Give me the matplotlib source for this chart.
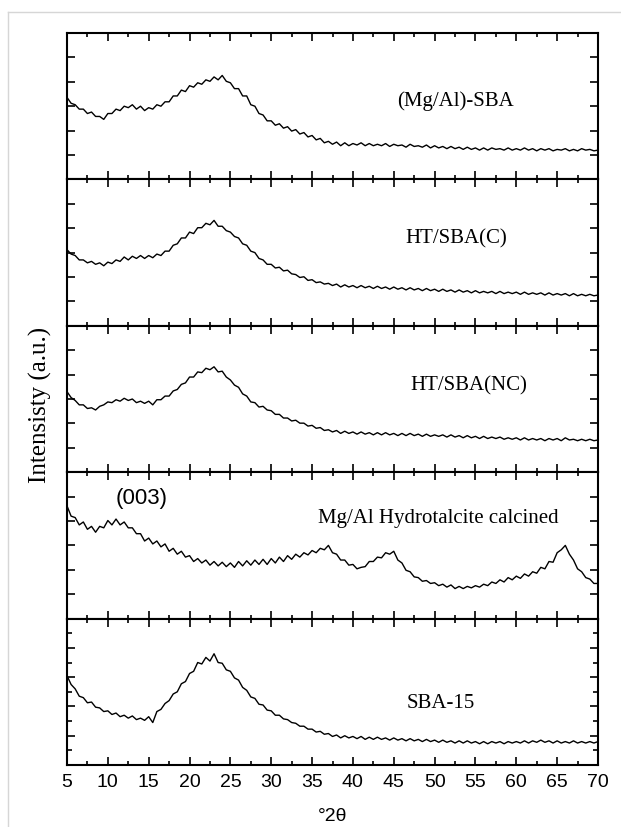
import numpy as np
import matplotlib
matplotlib.use("Agg")
import matplotlib.pyplot as plt
from matplotlib.ticker import MultipleLocator, FixedLocator
from matplotlib.lines import Line2D

# ---- data (2theta grid 5..70 step 0.5; intensities in % of panel height) ----
two_theta = np.arange(5.0, 70.01, 0.5)

mgal_sba = [56, 52, 51, 48, 48, 45, 46, 43, 43, 41, 45, 45, 48, 47, 50, 49, 51, 48, 50, 47,
            49, 48, 51, 50, 53, 53, 57, 57, 61, 60, 64, 63, 66, 65, 68, 67, 70, 68, 71, 67,
            66, 62, 62, 57, 57, 51, 50, 45, 44, 40, 40, 37, 38, 35, 36, 33, 34, 31, 32, 29,
            30, 27, 28, 25, 26, 24, 25.5, 23, 25, 23, 24.5, 23.5, 25, 23, 24.5, 23, 24, 23, 24.5, 22.5,
            24, 23, 23.5, 22, 24, 22.5, 23, 22, 23.5, 21.5, 23, 21.5, 22.5, 21, 22.5, 21, 22, 20.5, 22, 20.5,
            21.5, 20, 21.5, 20, 21.5, 20.5, 21, 20, 21.5, 20, 21, 20, 21.5, 20, 21, 19.5, 21, 20, 21, 19.5,
            20.5, 20, 21, 19.5, 20.5, 19.5, 21, 20, 20.5, 19.5, 20]

ht_sba_c = [52, 49, 48, 45, 45, 43, 44, 42, 43, 41, 43.5, 42.5, 45, 44, 47, 45, 47.5, 46, 48, 46,
            48, 46.5, 49, 48, 51, 51, 55, 56, 60, 60, 64, 63, 67, 67, 70, 69, 72, 68, 68, 65,
            64, 61, 60, 56, 55, 51, 50, 46, 45, 42, 42, 39.5, 40, 37.5, 38, 35.5, 35, 33, 33.5, 31,
            31.5, 29.5, 30, 28.5, 29, 27.5, 28.5, 26.5, 28, 26.5, 27.5, 26, 27.5, 26, 27, 25.5, 27, 25.5, 26.5, 25,
            26.5, 25, 26, 24.5, 26, 24.5, 25.5, 24, 25.5, 24, 25, 23.5, 25, 23.5, 24.5, 23, 24.5, 23, 24, 22.5,
            24, 22.5, 23.5, 22.5, 23.5, 22, 23.5, 22, 23, 22, 23, 21.5, 23, 21.5, 22.5, 21.5, 22.5, 21, 22.5, 21,
            22, 21, 22, 20.5, 22, 20.5, 21.5, 20.5, 21.5, 20.5, 21]

ht_sba_nc = [55, 51, 49, 46, 46, 43.5, 44, 42.5, 45, 46, 48, 47.5, 49.5, 48.5, 50.5, 49, 50, 47.5, 48.5, 47,
             48.5, 46, 49.5, 49.5, 52, 52, 55.5, 56.5, 60, 61, 65, 65, 68.5, 68, 71, 70, 72, 68.5, 69, 65,
             63, 59.5, 58, 53.5, 52, 48, 47.5, 44.5, 45, 42.5, 42, 39.5, 39.5, 37, 37, 35, 35.5, 33.5, 33.5, 31.5,
             32, 30, 30.5, 28.5, 29, 27.5, 28.5, 26.5, 28, 26.5, 27.5, 26, 27.5, 26, 27, 25.5, 27, 25.5, 27, 25.5,
             26.5, 25, 26.5, 25, 26.5, 25, 26, 24.5, 26, 24.5, 25.5, 24.5, 25.5, 24, 25.5, 24, 25, 23.5, 25, 23.5,
             24.5, 23, 24.5, 23, 24, 23, 24, 22.5, 23.5, 22.5, 23.5, 22, 23.5, 22, 23, 22, 23, 21.5, 23, 22,
             23, 21.5, 23.5, 22, 22.5, 21.5, 22.5, 21.5, 22.5, 21.5, 22]

ht_calcined = [77, 70, 69, 64, 66, 61, 63, 59, 63, 62, 67, 64, 68, 64, 66, 62, 62, 58, 58, 53,
               55, 51, 53, 49, 51, 46, 48, 44, 46, 42, 43, 39, 41, 38, 40, 36.5, 39, 36, 38.5, 35.5,
               38, 35, 39, 36, 39.5, 36.5, 40, 37, 40.5, 37, 41, 38, 42, 39, 43, 40.5, 44, 42, 45, 43.5,
               46.5, 45, 48, 47, 50, 45, 44, 40, 40, 36.5, 37, 34, 35, 35.5, 39, 39, 42, 41.5, 45, 44,
               46, 40, 38, 33, 32, 28.5, 28, 25.5, 26, 24, 24.5, 22.5, 23.5, 21.5, 23, 20.5, 22, 20.5, 22, 21,
               22.5, 21.5, 23.5, 22.5, 25, 24, 26.5, 25, 28, 26.5, 29, 27.5, 30.5, 29, 32, 31, 35, 34, 39, 38.5,
               45, 47, 50, 44, 40, 34, 32, 28, 27, 24, 24]

sba15 = [61, 55, 52, 47, 46, 42.5, 43, 39.5, 39, 36.5, 37, 34.5, 35.5, 33, 34, 32, 33.5, 31, 32, 30.5,
         33, 29, 36.5, 38, 42, 44, 48.5, 50, 55.5, 57, 62.5, 64, 70, 69, 73.5, 71, 76, 70, 69.5, 65,
         64, 59.5, 58, 53, 51, 46.5, 45.5, 41.5, 41, 37.5, 37, 34, 34, 31.5, 31, 29, 28.5, 26.5, 26.5, 24.5,
         24.5, 22.5, 23, 21, 21.5, 19.5, 20.5, 18.5, 20, 18.5, 19.5, 18, 19.5, 17.5, 19, 17.5, 19, 17.5, 18.5, 17,
         18.5, 17, 18, 16.5, 18, 16.5, 17.5, 16, 17.5, 16, 17, 15.5, 17, 15.5, 16.5, 15, 16.5, 15, 16.5, 15,
         16, 14.5, 16, 14.5, 16, 15, 16, 14.5, 16, 15, 16, 15, 16.5, 15, 16.5, 15.5, 17, 15.5, 16.5, 15,
         16.5, 15, 16, 15, 16.5, 15, 16, 15, 16, 15, 16]

series = [mgal_sba, ht_sba_c, ht_sba_nc, ht_calcined, sba15]
labels = ["(Mg/Al)-SBA", "HT/SBA(C)", "HT/SBA(NC)", "Mg/Al Hydrotalcite calcined", "SBA-15"]
label_pos = [(52.6, 54), (52.7, 60), (54.2, 60), (50.4, 69), (50.8, 43)]
x_ticks = [5, 10, 15, 20, 25, 30, 35, 40, 45, 50, 55, 60, 65, 70]

for s in series:
    assert len(s) == len(two_theta), len(s)

# ---- figure ----
W, H = 621, 828
fig = plt.figure(figsize=(W / 100, H / 100), dpi=100)

# light frame around the figure
fig.add_artist(Line2D([8 / W, 1.0], [1 - 13 / H, 1 - 13 / H], transform=fig.transFigure,
                      color="#d6d6d6", lw=1.0))
fig.add_artist(Line2D([8 / W, 8 / W], [0.0, 1 - 13 / H], transform=fig.transFigure,
                      color="#d6d6d6", lw=1.0))

left, right = 67 / W, 598 / W
top_px, bot_px = 34, 766
ph = (bot_px - top_px) / 5

serif = ["Liberation Serif", "DejaVu Serif"]
sans = ["Liberation Sans", "DejaVu Sans"]

axes = []
for i, (y, lab, (lx, ly)) in enumerate(zip(series, labels, label_pos)):
    y0 = 1 - (top_px + (i + 1) * ph) / H
    ax = fig.add_axes([left, y0, right - left, ph / H])
    ax.plot(two_theta, y, color="black", lw=1.0)
    ax.set_xlim(5, 70)
    ax.set_ylim(0, 100)
    ax.xaxis.set_major_locator(FixedLocator(x_ticks))
    ax.xaxis.set_minor_locator(MultipleLocator(2.5))
    if i < 4:
        ax.yaxis.set_major_locator(FixedLocator([100 / 6 * k for k in range(1, 6)]))
        ax.yaxis.set_minor_locator(FixedLocator([]))
    else:
        ax.yaxis.set_major_locator(FixedLocator([20, 40, 60, 80]))
        ax.yaxis.set_minor_locator(FixedLocator([10, 30, 50, 70, 90]))
    ax.tick_params(axis="both", which="both", direction="in", top=True, right=True,
                   width=1.2, color="black")
    ax.tick_params(axis="x", which="major", length=5.5)
    ax.tick_params(axis="x", which="minor", length=3)
    ax.tick_params(axis="y", which="major", length=6)
    ax.tick_params(axis="y", which="minor", length=3.5)
    ax.set_yticklabels([])
    if i < 4:
        ax.set_xticklabels([])
    else:
        ax.set_xticklabels([str(t) for t in x_ticks], family=sans, fontsize=14)
        ax.tick_params(axis="x", which="major", pad=6)
    for sp in ax.spines.values():
        sp.set_linewidth(1.5)
    ax.text(lx, ly, lab, ha="center", va="center", family=serif, fontsize=15)
    axes.append(ax)

axes[3].text(14.1, 83, "(003)", ha="center", va="center", family=sans, fontsize=16)

axes[4].set_xlabel("°2θ", family=sans, fontsize=14, labelpad=12)
fig.text(40 / W, 1 - 405 / H, "Intensisty (a.u.)", rotation=90, ha="center", va="center",
         family=serif, fontsize=18)

fig.savefig("out.png", dpi=100)
